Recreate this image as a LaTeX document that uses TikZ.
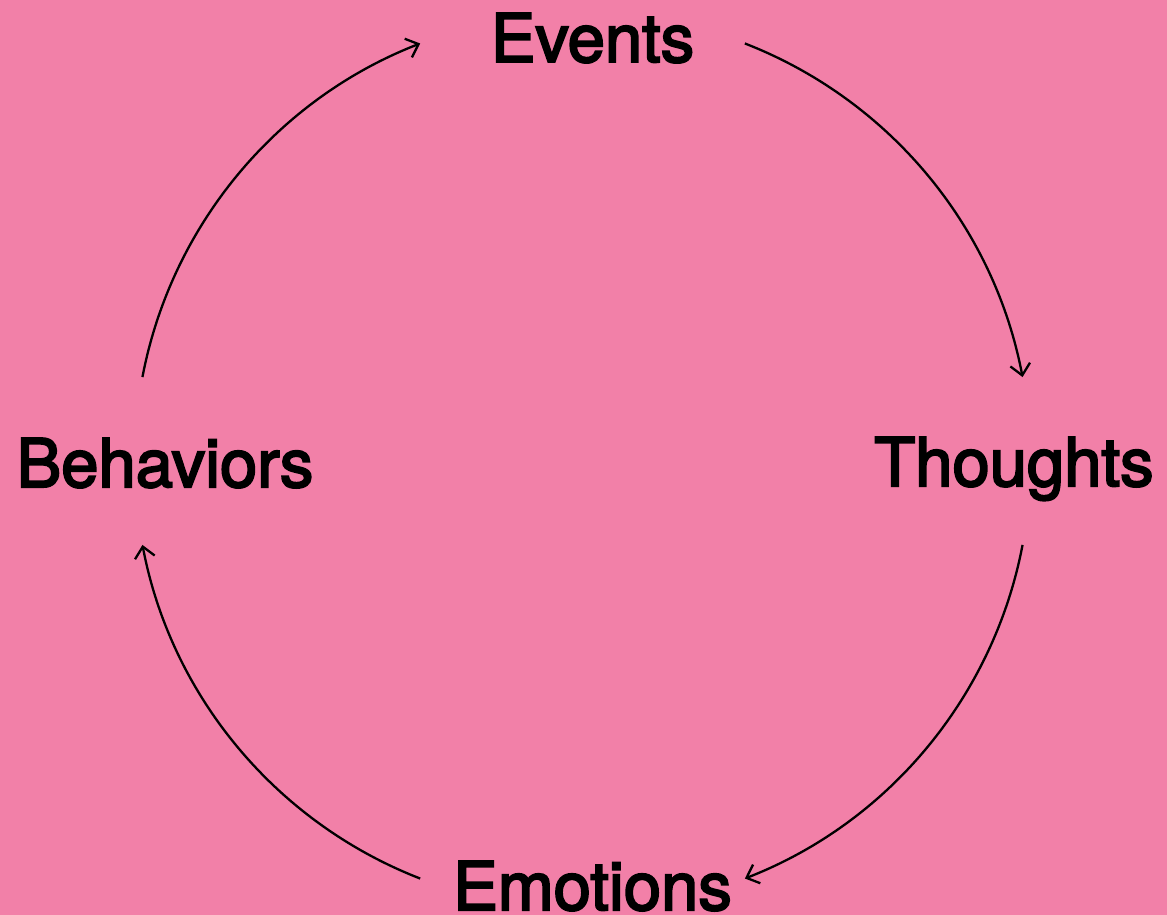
\documentclass[tikz,border=0pt]{standalone}
\usepackage{fontspec}
\setmainfont[FakeBold=3]{TeX Gyre Heros}
\usetikzlibrary{arrows.meta,calc}
\definecolor{bgpink}{RGB}{242,128,168}
\begin{document}
\begin{tikzpicture}[x=1pt,y=1pt,
  lbl/.style={font=\fontsize{67}{67}\selectfont, anchor=base, inner sep=0pt, text=black},
  conn/.style={line width=2.3pt, black, -{Straight Barb[length=11pt,width=20pt,line width=2.3pt]}}]
\fill[bgpink] (0,0) rectangle (1167,915);
\useasboundingbox (0,0) rectangle (1167,915);
\coordinate (c) at (582.5,454);
\node[lbl] (events) at (592.5,853) {Events};
\node[lbl] (thoughts) at (1014,429) {Thoughts};
\node[lbl] (behaviors) at (165,428) {Behaviors};
\node[lbl] (emotions) at (592.5,5) {Emotions};
\coordinate (a1) at ($(c)+(68.75:448)$);
\coordinate (a2) at ($(c)+(-10.8:448)$);
\coordinate (a3) at ($(c)+(248.75:448)$);
\coordinate (a4) at ($(c)+(169.2:448)$);
\draw[conn] (a1) arc[start angle=68.75, end angle=10.8, radius=448];
\draw[conn] (a2) arc[start angle=-10.8, end angle=-68.75, radius=448];
\draw[conn] (a3) arc[start angle=248.75, end angle=190.8, radius=448];
\draw[conn] (a4) arc[start angle=169.2, end angle=111.25, radius=448];
\end{tikzpicture}
\end{document}
